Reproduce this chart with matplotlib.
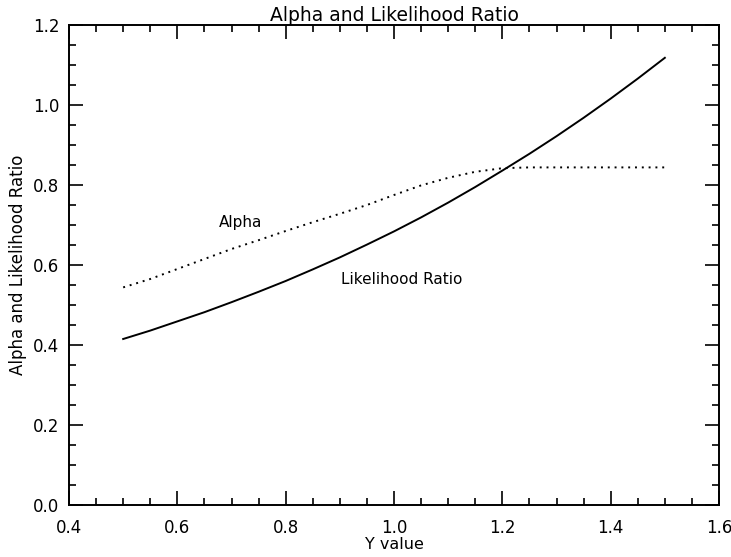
import matplotlib
matplotlib.use("Agg")
import matplotlib.pyplot as plt
from matplotlib.ticker import MultipleLocator

plt.rcParams['font.family'] = ['DejaVu Sans']

# values
y_value = [0.50, 0.55, 0.60, 0.65, 0.70, 0.75, 0.80, 0.85, 0.90, 0.95, 1.00,
           1.05, 1.10, 1.15, 1.20, 1.25, 1.30, 1.35, 1.40, 1.45, 1.50]
likelihood = [0.415, 0.436, 0.459, 0.482, 0.507, 0.533, 0.560, 0.589, 0.619,
              0.651, 0.684, 0.719, 0.756, 0.795, 0.836, 0.878, 0.922, 0.968,
              1.016, 1.066, 1.118]
alpha = [0.544, 0.565, 0.590, 0.615, 0.640, 0.662, 0.685, 0.707, 0.728,
         0.750, 0.775, 0.799, 0.818, 0.833, 0.842, 0.844, 0.844, 0.844,
         0.844, 0.844, 0.844]

fig = plt.figure(figsize=(7.31, 5.57), dpi=100)
ax = fig.add_axes([0.0944, 0.0934, 0.8892, 0.8617])

ax.plot(y_value, likelihood, color="black", lw=1.4)
ax.plot(y_value, alpha, color="black", lw=1.4, linestyle=(0, (1, 2.5)))

ax.text(0.716, 0.707, "Alpha", fontsize=11, ha="center", va="center")
ax.text(1.014, 0.5625, "Likelihood Ratio", fontsize=11, ha="center", va="center")

ax.set_xlim(0.4, 1.6)
ax.set_ylim(0.0, 1.2)
ax.xaxis.set_major_locator(MultipleLocator(0.2))
ax.xaxis.set_minor_locator(MultipleLocator(0.05))
ax.yaxis.set_major_locator(MultipleLocator(0.2))
ax.yaxis.set_minor_locator(MultipleLocator(0.05))
ax.xaxis.set_major_formatter(plt.FormatStrFormatter("%.1f"))
ax.yaxis.set_major_formatter(plt.FormatStrFormatter("%.1f"))
ax.tick_params(which="both", direction="in", top=True, right=True,
               width=1.2, labelsize=12)
ax.tick_params(which="major", length=10)
ax.tick_params(axis="x", which="major", pad=10)
ax.tick_params(axis="y", which="major", pad=7)
ax.tick_params(which="minor", length=5)
for s in ax.spines.values():
    s.set_linewidth(1.4)

ax.set_title("Alpha and Likelihood Ratio", fontsize=13.5, pad=3)
ax.set_xlabel("Y value", fontsize=11.5, labelpad=0)
ax.set_ylabel("Alpha and Likelihood Ratio", fontsize=12, labelpad=4)

fig.savefig("out.png", dpi=100)
